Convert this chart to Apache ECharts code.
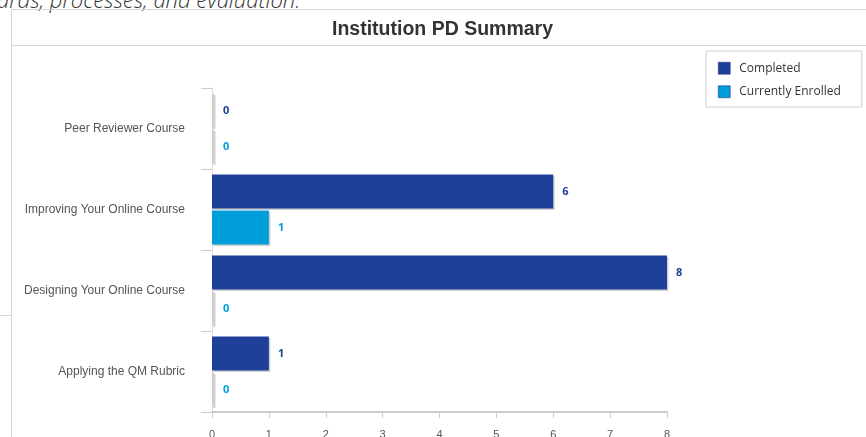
<!DOCTYPE html>
<html>
<head>
<meta charset="utf-8">
<script src="https://cdn.jsdelivr.net/npm/echarts@6/dist/echarts.min.js"></script>
<style>
  html, body { margin: 0; padding: 0; width: 866px; height: 437px; overflow: hidden; background: #fff; }
  #intro { position: absolute; left: -3px; top: -16px; font: italic 300 22px "Open Sans", sans-serif; color: #333; white-space: nowrap; }
  #panel { position: absolute; left: 11px; top: 9px; width: 900px; height: 500px; border: 1px solid #d6d6d6; box-sizing: border-box; }
  #panelHead { position: absolute; left: 11px; top: 45px; width: 900px; border-top: 1px solid #d6d6d6; }
  #stub { position: absolute; left: 0; top: 315px; width: 11px; border-top: 1px solid #d6d6d6; }
  #main { position: absolute; left: 0; top: 0; width: 866px; height: 437px; }
</style>
</head>
<body>
<div id="intro">ards, processes, and evaluation.</div>
<div id="stub"></div>
<div id="panel"></div>
<div id="panelHead"></div>
<div id="main"></div>
<script>
var courses = ['Peer Reviewer Course', 'Improving Your Online Course', 'Designing Your Online Course', 'Applying the QM Rubric'];
var completed = [0, 6, 8, 1];
var enrolled = [0, 1, 0, 0];
var xTicks = [0, 1, 2, 3, 4, 5, 6, 7, 8];
var seriesNames = ['Completed', 'Currently Enrolled'];
var seriesColors = ['#1f4099', '#009ddb'];

function barSeries(name, values, color) {
  return {
    name: name,
    type: 'bar',
    data: values,
    barWidth: 34,
    barGap: '6%',
    barMinHeight: 2,
    itemStyle: {
      // zero values show as a thin grey stub
      color: function (p) { return p.value === 0 ? '#cfcfcf' : color; },
      shadowColor: 'rgba(0,0,0,0.18)',
      shadowOffsetX: 1.5,
      shadowOffsetY: 1.5
    },
    label: {
      show: true,
      position: 'right',
      distance: 9,
      color: color,
      fontFamily: 'Open Sans',
      fontWeight: 'bold',
      fontSize: 11
    }
  };
}

var chart = echarts.init(document.getElementById('main'));
chart.setOption({
  animation: false,
  title: {
    text: 'Institution PD Summary',
    left: 327,
    top: 15,
    textStyle: { fontFamily: 'Liberation Sans', fontSize: 19.5, fontWeight: 'bold', color: '#333' }
  },
  legend: {
    orient: 'vertical',
    left: 706,
    top: 51,
    padding: [11, 21, 9, 12],
    borderColor: '#d0d0d0',
    borderWidth: 1,
    icon: 'rect',
    itemWidth: 12,
    itemHeight: 12,
    itemGap: 11,
    textStyle: { fontFamily: 'Open Sans', fontSize: 12, color: '#333', padding: [0, 0, 0, 4] },
    data: seriesNames.map(function (n, i) {
      return { name: n, itemStyle: { color: seriesColors[i], borderColor: '#1a2f6b', borderWidth: 0.5 } };
    })
  },
  grid: { left: 212, right: 199, top: 88, bottom: 25, containLabel: false, outerBoundsMode: 'none' },
  xAxis: {
    type: 'value',
    min: xTicks[0],
    max: xTicks[xTicks.length - 1],
    interval: 1,
    axisLine: { show: true, lineStyle: { color: '#cccccc', width: 2 } },
    axisTick: { show: true, length: 6, lineStyle: { color: '#cccccc' } },
    splitLine: { show: false },
    axisLabel: { margin: 17, fontFamily: 'Liberation Sans', fontSize: 11, color: '#555' }
  },
  yAxis: {
    type: 'category',
    data: courses,
    inverse: true,
    axisLine: { show: true, lineStyle: { color: '#dddddd', width: 1 } },
    axisTick: { show: true, length: 11, lineStyle: { color: '#cccccc' } },
    axisLabel: { margin: 27, fontFamily: 'Liberation Sans', fontSize: 12, color: '#555' }
  },
  series: [
    barSeries(seriesNames[0], completed, seriesColors[0]),
    barSeries(seriesNames[1], enrolled, seriesColors[1])
  ]
});
</script>
</body>
</html>
